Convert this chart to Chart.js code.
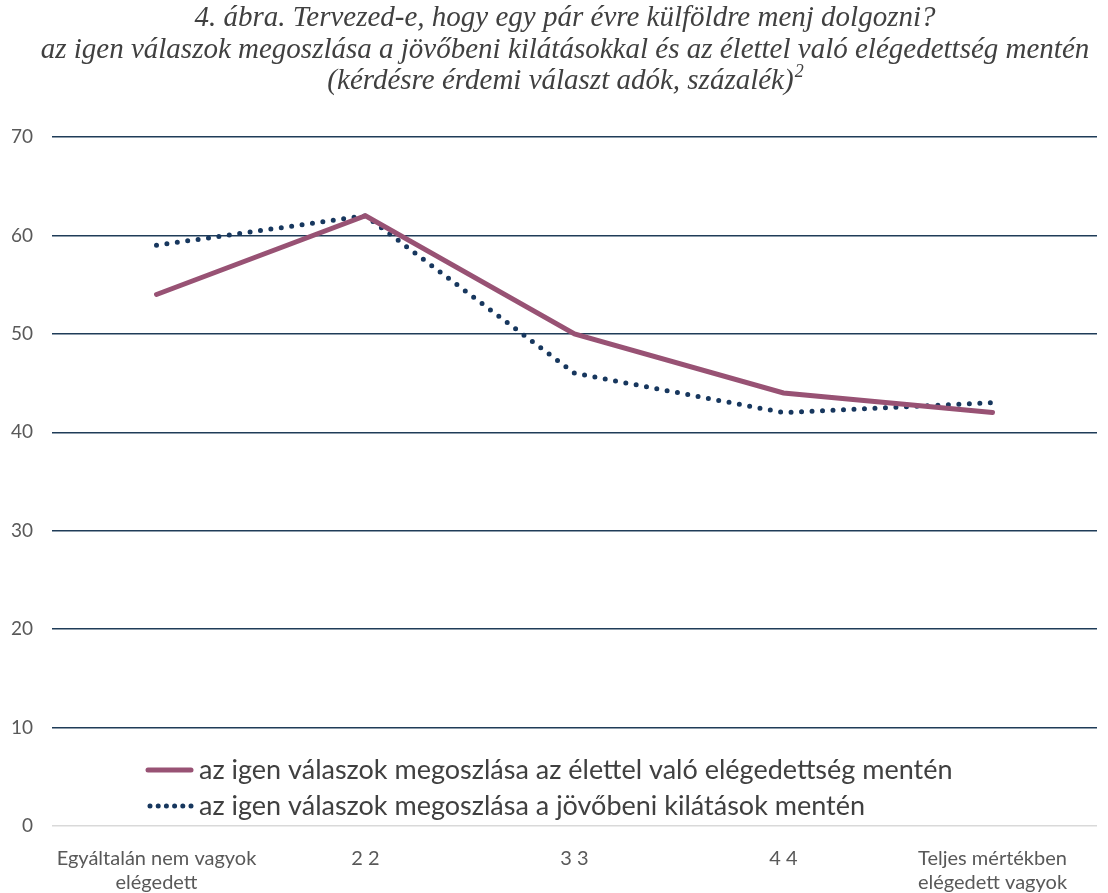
<!DOCTYPE html>
<html>
<head>
<meta charset="utf-8">
<script src="https://cdn.jsdelivr.net/npm/chart.js@4/dist/chart.umd.min.js"></script>
<style>
    html, body {
        margin: 0;
        padding: 0;
        background: #fff;
    }

    #wrap {
        width: 1108px;
        height: 893px;
    }
</style>
</head>
<body>
<div id="wrap"><canvas id="chart"></canvas></div>
<script>
// Chart data
const titleLines = [
    '4. ábra. Tervezed-e, hogy egy pár évre külföldre menj dolgozni?',
    'az igen válaszok megoszlása a jövőbeni kilátásokkal és az élettel való elégedettség mentén',
    '(kérdésre érdemi választ adók, százalék)'
]
const titleNote = '2'
const categories = [
    ['Egyáltalán nem vagyok', 'elégedett'],
    '2 2',
    '3 3',
    '4 4',
    ['Teljes mértékben', 'elégedett vagyok']
]
const seriesNames = [
    'az igen válaszok megoszlása az élettel való elégedettség mentén',
    'az igen válaszok megoszlása a jövőbeni kilátások mentén'
]
const lifeSatisfaction = [54, 62, 50, 44, 42]
const futureOutlook = [59, 62, 46, 42, 43]
const yMin = 0
const yMax = 70
const yStep = 10

const purple = '#985274'
const navy = '#17375e'
const gridNavy = '#1f3c58'
const textGray = '#595959'

/**
 * Draws the three italic title lines above the plot, with a raised note mark.
 */
const titlePlugin = {
    id: 'titleLines',
    afterDraw(chart) {
        const ctx = chart.ctx
        const centerX = 565
        const tops = [18, 50, 81]
        const bigFont = 'italic 29px "Liberation Serif", "DejaVu Serif", serif'
        const smallFont = 'italic 18px "Liberation Serif", "DejaVu Serif", serif'
        ctx.save()
        ctx.fillStyle = '#404040'
        ctx.textBaseline = 'middle'
        titleLines.forEach((line, i) => {
            ctx.font = bigFont
            if (i < titleLines.length - 1) {
                ctx.textAlign = 'center'
                ctx.fillText(line, centerX, tops[i])
                return
            }
            const w = ctx.measureText(line).width
            ctx.font = smallFont
            const nw = ctx.measureText(titleNote).width
            const startX = centerX - (w + nw) / 2
            ctx.textAlign = 'left'
            ctx.font = bigFont
            ctx.fillText(line, startX, tops[i])
            ctx.font = smallFont
            ctx.fillText(titleNote, startX + w + 1, tops[i] - 9)
        })
        ctx.restore()
    }
}

/**
 * Draws the legend inside the lower part of the plot area.
 */
const legendPlugin = {
    id: 'innerLegend',
    afterDraw(chart) {
        const ctx = chart.ctx
        ctx.save()
        const rows = [770, 806]
        chart.data.datasets.forEach((ds, i) => {
            const y = rows[i]
            const dotted = !!ds.borderDash
            ctx.beginPath()
            ctx.strokeStyle = ds.borderColor
            ctx.lineWidth = ds.borderWidth
            ctx.lineCap = ds.borderCapStyle || 'butt'
            ctx.setLineDash(dotted ? [0, 8.2] : [])
            ctx.moveTo(dotted ? 150 : 148, y)
            ctx.lineTo(191, y)
            ctx.stroke()
            ctx.setLineDash([])
            ctx.fillStyle = '#404040'
            ctx.font = '27px Lato, "Open Sans", sans-serif'
            ctx.textAlign = 'left'
            ctx.textBaseline = 'middle'
            ctx.fillText(ds.label, 199, y)
        })
        ctx.restore()
    }
}

new Chart(document.getElementById('chart'), {
    type: 'line',
    data: {
        labels: categories,
        datasets: [
            {
                label: seriesNames[0],
                data: lifeSatisfaction,
                borderColor: purple,
                borderWidth: 5,
                borderCapStyle: 'round',
                pointRadius: 0,
                tension: 0,
                fill: false
            },
            {
                label: seriesNames[1],
                data: futureOutlook,
                borderColor: navy,
                borderWidth: 5,
                borderDash: [0, 10.5],
                borderCapStyle: 'round',
                pointRadius: 0,
                tension: 0,
                fill: false
            }
        ]
    },
    options: {
        responsive: true,
        maintainAspectRatio: false,
        animation: false,
        layout: {
            padding: { top: 137, right: 11, bottom: 0, left: 0 }
        },
        plugins: {
            legend: { display: false },
            title: { display: false },
            tooltip: { enabled: false }
        },
        scales: {
            x: {
                offset: true,
                grid: { display: false },
                border: { display: false },
                ticks: {
                    color: textGray,
                    font: { family: 'Lato, "Open Sans", sans-serif', size: 20, lineHeight: 1.2 },
                    padding: 13,
                    maxRotation: 0,
                    autoSkip: false
                },
                afterFit(scale) {
                    scale.height = 67
                }
            },
            y: {
                min: yMin,
                max: yMax,
                border: { display: false },
                grid: {
                    drawTicks: false,
                    lineWidth: 1.5,
                    color: (c) => (c.tick && c.tick.value === 0 ? '#d9d9d9' : gridNavy)
                },
                ticks: {
                    stepSize: yStep,
                    color: textGray,
                    padding: 19,
                    font: { family: 'Lato, "Open Sans", sans-serif', size: 19 }
                },
                afterFit(scale) {
                    scale.width = 52
                }
            }
        }
    },
    plugins: [titlePlugin, legendPlugin]
})
</script>
</body>
</html>
